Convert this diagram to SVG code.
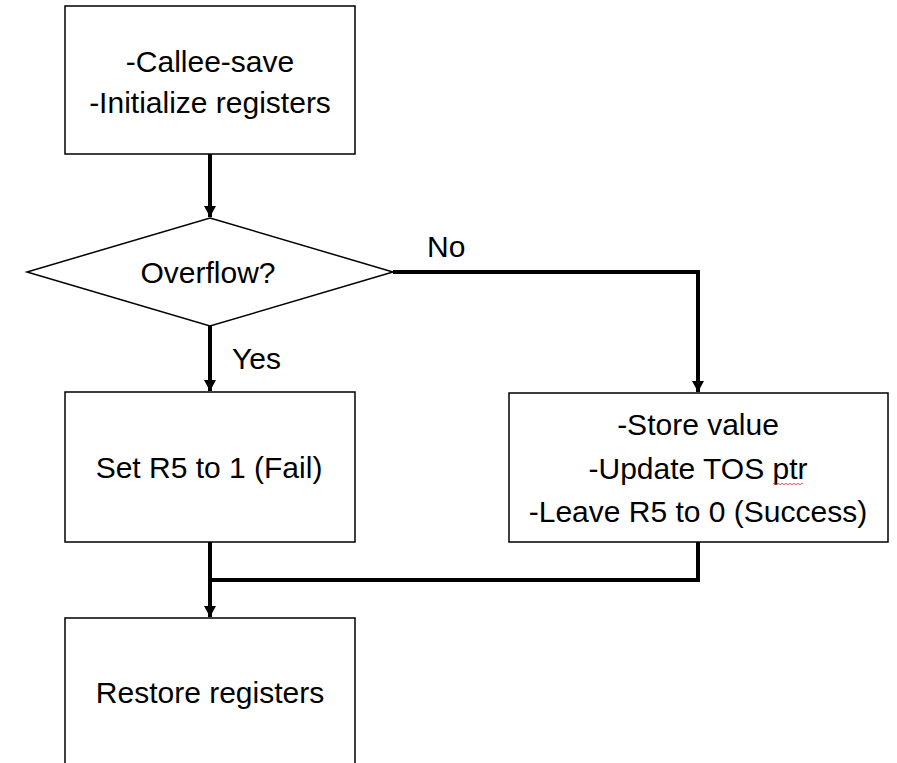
<svg xmlns="http://www.w3.org/2000/svg" width="897" height="763" viewBox="0 0 897 763">
  <style>
    .box { fill: #ffffff; stroke: #000000; stroke-width: 1.5; }
    .lbl { font-family: "Liberation Sans", Arial, sans-serif; font-size: 30px; fill: #000000; text-anchor: middle; }
    .tag { font-family: "Liberation Sans", Arial, sans-serif; font-size: 30px; fill: #000000; }
    .conn { fill: none; stroke: #000000; stroke-width: 4; }
  </style>
  <defs>
    <marker id="arrow" markerUnits="userSpaceOnUse" markerWidth="12" markerHeight="12" refX="11" refY="6" orient="auto">
      <path d="M0,0 L11,6 L0,12 Z" fill="#000000"/>
    </marker>
  </defs>
  <rect width="897" height="763" fill="#ffffff"/>

  <g id="connectors">
    <path class="conn" d="M210,154 V217" marker-end="url(#arrow)"/>
    <path class="conn" d="M210,326 V391" marker-end="url(#arrow)"/>
    <path class="conn" d="M393,272 H698 V392" marker-end="url(#arrow)"/>
    <path class="conn" d="M210,542 V617" marker-end="url(#arrow)"/>
    <path class="conn" d="M698,542 V580 H210"/>
  </g>

  <g id="init">
    <rect class="box" x="65" y="6" width="290" height="148"/>
    <text class="lbl" x="210" y="72">-Callee-save</text>
    <text class="lbl" x="210" y="113">-Initialize registers</text>
  </g>

  <g id="overflow">
    <polygon class="box" points="210,218 393,272 210,326 27,272"/>
    <text class="lbl" x="208" y="283">Overflow?</text>
    <text class="tag" x="232" y="369">Yes</text>
    <text class="tag" x="427" y="257">No</text>
  </g>

  <g id="fail">
    <rect class="box" x="65" y="392" width="290" height="150"/>
    <text class="lbl" x="209" y="478">Set R5 to 1 (Fail)</text>
  </g>

  <g id="success">
    <rect class="box" x="509" y="393" width="379" height="149"/>
    <text class="lbl" x="698" y="435">-Store value</text>
    <text class="lbl" x="698" y="479">-Update TOS ptr</text>
    <text class="lbl" x="698" y="522">-Leave R5 to 0 (Success)</text>
    <path d="M773,484 q1,-1.5 2,0 t2,0 t2,0 t2,0 t2,0 t2,0 t2,0 t2,0 t2,0 t2,0 t2,0 t2,0 t2,0 t2,0 t2,0" fill="none" stroke="#e03030" stroke-width="0.8"/>
  </g>

  <g id="restore">
    <path class="box" d="M65,770 V618 H355 V770"/>
    <text class="lbl" x="210" y="703">Restore registers</text>
  </g>
</svg>
